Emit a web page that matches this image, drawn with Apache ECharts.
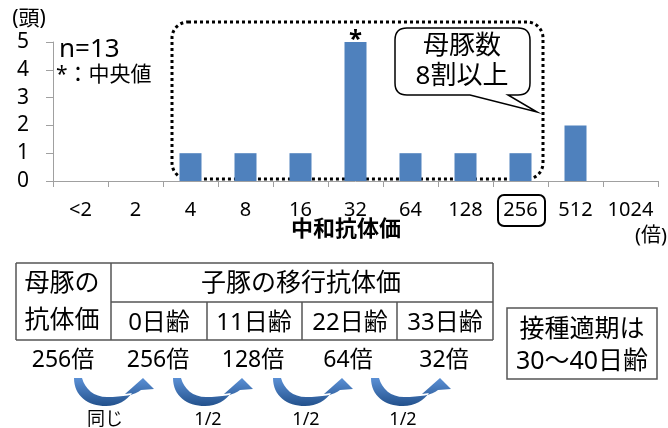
<!DOCTYPE html>
<html>
<head>
<meta charset="utf-8">
<script src="https://cdn.jsdelivr.net/npm/echarts@6/dist/echarts.min.js"></script>
<style>
html,body{margin:0;padding:0;background:#fff;}
#main{width:668px;height:428px;}
</style>
</head>
<body>
<div id="main"></div>
<script>
// ---- data ----
const categories = ['<2', '2', '4', '8', '16', '32', '64', '128', '256', '512', '1024'];
const counts = [0, 0, 1, 1, 1, 5, 1, 1, 1, 2, 0];
const medianCategory = '32';
const yMin = 0, yMax = 5, yStep = 1;
const pigletAges = ['0日齢', '11日齢', '22日齢', '33日齢'];
const titers = ['256倍', '256倍', '128倍', '64倍', '32倍'];
const ratios = ['同じ', '1/2', '1/2', '1/2'];

const JP = '"Noto Sans", "Noto Sans CJK JP", sans-serif';

// custom shapes
const CalloutShape = echarts.graphic.extendPath(
  'M12 0 L123 0 Q135 0 135 12 L135 55 Q135 67 123 67 L113 67 L142 84 L75 67 L12 67 Q0 67 0 55 L0 12 Q0 0 12 0 Z', {});
echarts.graphic.registerShape('callout', CalloutShape);
const ArrowShape = echarts.graphic.extendPath(
  'M0 0 C0 18 14 28 32 28 C44 28 53 22 58 15 L51 16 L69 0 L80 11 L67 12 C61 17 49 19 33 19 C20 19 11 11 8 0 Z', {});
echarts.graphic.registerShape('curvedArrow', ArrowShape);

const chart = echarts.init(document.getElementById('main'), null, {renderer: 'canvas'});

function txt(text, x, y, size, opts) {
  opts = opts || {};
  return {
    type: 'text', z: 10,
    style: {
      text: text, x: x, y: y,
      fontSize: size, fontFamily: JP, fontWeight: opts.bold ? 'bold' : 'normal',
      fill: opts.fill || '#000',
      align: opts.align || 'center', verticalAlign: 'middle'
    }
  };
}
function line(x1, y1, x2, y2) {
  return {type: 'line', z: 10, shape: {x1: x1, y1: y1, x2: x2, y2: y2},
    style: {stroke: '#555', lineWidth: 1.5}};
}

const graphics = [];
// dotted rounded frame
graphics.push({type: 'rect', z: 1, shape: {x: 172, y: 22, width: 371, height: 157, r: 16},
  style: {fill: 'none', stroke: '#000', lineWidth: 3, lineDash: [3, 3]}});
// callout
graphics.push({type: 'callout', z: 10, x: 395, y: 28,
  style: {fill: '#fff', stroke: '#000', lineWidth: 1.5}});
graphics.push(txt('母豚数', 462, 47, 26));
graphics.push(txt('8割以上', 462, 77, 26));
// box around 256 label
graphics.push({type: 'rect', z: 10, shape: {x: 498, y: 195, width: 47, height: 31, r: 6},
  style: {fill: 'none', stroke: '#000', lineWidth: 2}});
// chart texts
graphics.push(txt('(頭)', 29, 19, 21));
graphics.push(txt('n=13', 59, 50, 26, {align: 'left'}));
graphics.push(txt('*：中央値', 56, 75, 21, {align: 'left'}));
graphics.push(txt('中和抗体価', 346, 230, 22, {bold: true}));
graphics.push(txt('(倍)', 651, 236, 20));

// table
graphics.push(line(16, 263, 493, 263));
graphics.push(line(111, 302, 493, 302));
graphics.push(line(16, 340, 493, 340));
graphics.push(line(16, 263, 16, 340));
graphics.push(line(111, 263, 111, 340));
graphics.push(line(493, 263, 493, 340));
[207, 302, 397].forEach(function (x) { graphics.push(line(x, 302, x, 340)); });
graphics.push(txt('母豚の', 62, 284, 25));
graphics.push(txt('抗体価', 62, 321, 25));
graphics.push(txt('子豚の移行抗体価', 301, 284, 25));
const ageCenters = [159, 254, 350, 445];
pigletAges.forEach(function (a, i) { graphics.push(txt(a, ageCenters[i], 323, 24)); });
const titerCenters = [63, 158, 253, 348, 444];
titers.forEach(function (t, i) { graphics.push(txt(t, titerCenters[i], 360, 23)); });

// arrows
const arrowStarts = [74, 173, 273, 371];
arrowStarts.forEach(function (x) {
  graphics.push({type: 'curvedArrow', z: 10, x: x, y: 378,
    style: {fill: new echarts.graphic.LinearGradient(0, 0, 0, 1, [
      {offset: 0, color: '#5b90d5'}, {offset: 1, color: '#23518c'}]), stroke: 'none'}});
});
const ratioCenters = [105, 208, 306, 403];
ratios.forEach(function (r, i) { graphics.push(txt(r, ratioCenters[i], 420, 18)); });

// right box
graphics.push({type: 'rect', z: 10, shape: {x: 507, y: 308, width: 150, height: 71},
  style: {fill: 'none', stroke: '#555', lineWidth: 1.5}});
graphics.push(txt('接種適期は', 582, 330, 25));
graphics.push(txt('30〜40日齢', 582, 362, 25));

const option = {
  animation: false,
  backgroundColor: '#fff',
  grid: {left: 53, right: 10, top: 42, bottom: 247, containLabel: false},
  xAxis: {
    type: 'category', data: categories,
    axisLine: {lineStyle: {color: '#a0a0a0', width: 1}},
    axisTick: {show: true, length: 6, lineStyle: {color: '#a0a0a0'}},
    axisLabel: {color: '#000', fontSize: 20, margin: 19, fontFamily: JP, interval: 0}
  },
  yAxis: {
    type: 'value', min: yMin, max: yMax, interval: yStep,
    axisLine: {show: true, lineStyle: {color: '#a0a0a0', width: 1}},
    axisTick: {show: true, length: 7, lineStyle: {color: '#a0a0a0'}},
    splitLine: {show: false},
    axisLabel: {color: '#000', fontSize: 21, margin: 24, fontFamily: JP}
  },
  series: [{
    type: 'bar', barWidth: 22, z: 5,
    itemStyle: {color: '#4f81bd'},
    data: counts.map(function (v, i) {
      if (categories[i] === medianCategory) {
        return {value: v, label: {show: true, position: 'top', distance: 0, offset: [0, 10], formatter: '*',
          fontSize: 24, fontWeight: 'bold', color: '#000', fontFamily: JP}};
      }
      return v;
    })
  }],
  graphic: graphics
};
chart.setOption(option);
</script>
</body>
</html>
